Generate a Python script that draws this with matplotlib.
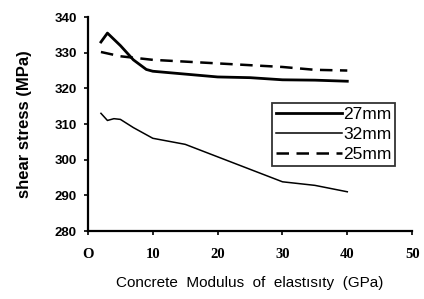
import matplotlib
matplotlib.use("Agg")
import matplotlib.pyplot as plt

# data
x_27 = [2, 3, 5, 7, 9, 10, 15, 20, 25, 30, 35, 40]
y_27 = [333, 335.5, 332, 328, 325.3, 324.8, 324, 323.2, 323, 322.4, 322.3, 322]

x_32 = [2, 3, 4, 5, 7, 10, 15, 20, 25, 30, 35, 40]
y_32 = [313, 311, 311.5, 311.3, 309, 306, 304.3, 300.8, 297.3, 293.8, 292.8, 291]

x_25 = [2, 5, 10, 15, 20, 25, 30, 35, 40]
y_25 = [330.2, 329, 328, 327.5, 327, 326.5, 326, 325.2, 325]

xticks = [0, 10, 20, 30, 40, 50]
xtick_labels = ["O", "10", "20", "30", "40", "50"]
yticks = [280, 290, 300, 310, 320, 330, 340]


def main():
    fig = plt.figure(figsize=(4.24, 2.99), dpi=100)
    ax = fig.add_axes([0.2075, 0.2274, 0.7645, 0.7156])

    ax.plot(x_27, y_27, color="black", lw=2.0, label="27mm")
    ax.plot(x_32, y_32, color="black", lw=1.1, label="32mm")
    ax.plot(x_25, y_25, color="black", lw=1.8, ls=(0, (5, 3)), label="25mm")

    ax.set_xlim(0, 50)
    ax.set_ylim(280, 340)
    ax.set_xticks(xticks)
    ax.set_xticklabels(xtick_labels, family="Liberation Serif", weight="bold", fontsize=10.5)
    ax.set_yticks(yticks)
    ax.set_yticklabels([str(v) for v in yticks], family="Liberation Sans", weight="bold", fontsize=9.5)
    ax.tick_params(axis="both", direction="out", length=3, width=1.2)
    ax.tick_params(axis="x", pad=9)
    ax.tick_params(axis="y", pad=5)

    for s in ["top", "right"]:
        ax.spines[s].set_visible(False)
    for s in ["left", "bottom"]:
        ax.spines[s].set_linewidth(1.6)

    ax.set_ylabel("shear stress (MPa)", family="Liberation Sans", weight="bold", fontsize=12, labelpad=16)
    ax.set_xlabel("Concrete  Modulus  of  elastısıty  (GPa)", family="Liberation Sans", fontsize=11, labelpad=11)

    leg = ax.legend(loc="upper left", bbox_to_anchor=(0.568, 0.598), frameon=True, fancybox=False,
                    edgecolor="black", prop={"family": "Liberation Sans", "size": 12.5},
                    handlelength=3.8, handletextpad=0.1, borderpad=0.2, labelspacing=0.3,
                    borderaxespad=0)
    leg.get_frame().set_linewidth(1.3)

    fig.savefig("out.png", dpi=100)


if __name__ == "__main__":
    main()
